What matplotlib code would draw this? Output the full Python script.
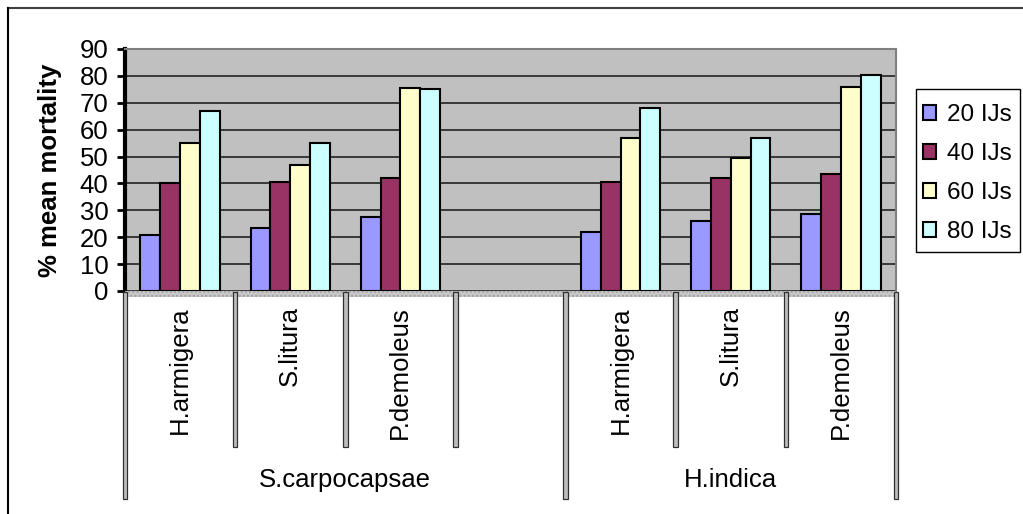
import matplotlib
matplotlib.use("Agg")
import matplotlib.pyplot as plt
from matplotlib.patches import Rectangle
from matplotlib.lines import Line2D
import numpy as np

plt.rcParams['font.family'] = ['Liberation Sans', 'DejaVu Sans']

categories = ["H.armigera", "S.litura", "P.demoleus", "", "H.armigera", "S.litura", "P.demoleus"]
groups = ["S.carpocapsae", "H.indica"]
group_spans = [(0, 4), (4, 7)]  # slot index ranges
series_names = ["20 IJs", "40 IJs", "60 IJs", "80 IJs"]
# values per slot (None = empty slot)
ijs20 = [21, 23.5, 27.5, None, 22, 26, 28.5]
ijs40 = [40, 40.5, 42, None, 40.5, 42, 43.5]
ijs60 = [55, 47, 75.5, None, 57, 49.5, 76]
ijs80 = [67, 55, 75, None, 68, 57, 80.5]
series = [ijs20, ijs40, ijs60, ijs80]
colors = ["#9999FF", "#993366", "#FFFFCC", "#CCFFFF"]
yticks = [0, 10, 20, 30, 40, 50, 60, 70, 80, 90]

W, H = 1023, 514
fig = plt.figure(figsize=(W / 100, H / 100), dpi=100)
fig.patch.set_facecolor("white")

x0p, x1p, y0p, y1p = 125, 896, 291, 49
ax = fig.add_axes([x0p / W, 1 - y0p / H, (x1p - x0p) / W, (y0p - y1p) / H])
ax.set_facecolor("#C0C0C0")
ax.set_xlim(-0.5, len(categories) - 0.5)
ax.set_ylim(0, 90)
ax.set_yticks(yticks)
ax.set_yticklabels([str(t) for t in yticks], fontsize=18.5)
ax.tick_params(axis="y", direction="out", length=6, width=2, pad=6)
ax.set_xticks([])
ax.yaxis.grid(True, color="#222222", lw=1.2)
ax.set_axisbelow(True)
for s in ["top", "right"]:
    ax.spines[s].set_color("#808080")
    ax.spines[s].set_linewidth(1.5)
ax.spines["left"].set_color("black")
ax.spines["left"].set_linewidth(3)
ax.spines["bottom"].set_visible(False)

bw = 0.18
xs = np.arange(len(categories))
for k, (vals, c, name) in enumerate(zip(series, colors, series_names)):
    px = [x + (k - 1.5) * bw for x, v in zip(xs, vals) if v is not None]
    pv = [v for v in vals if v is not None]
    ax.bar(px, pv, width=bw, color=c, edgecolor="black", linewidth=1.5, label=name, zorder=3)

trans = ax.get_xaxis_transform()
hpx = y0p - y1p

def ay(py):
    return (y0p - py) / hpx

# dotted band under axis
ax.add_patch(Rectangle((-0.5, ay(297)), len(categories), ay(291) - ay(297), transform=trans,
                       facecolor="#C8C8C8", edgecolor="#A0A0A0", lw=0, hatch="....",
                       clip_on=False, zorder=4))
# separators
long_idx = [0, 4, 7]
sep_w = 4.5 / ((x1p - x0p) / len(categories))
for i in range(len(categories) + 1):
    bottom = 499 if i in long_idx else 447
    ax.add_patch(Rectangle((-0.5 + i - sep_w / 2, ay(bottom)), sep_w, ay(292) - ay(bottom),
                           transform=trans, facecolor="#BDBDBD", edgecolor="#303030",
                           lw=0.9, clip_on=False, zorder=5))
for x, lab in zip(xs, categories):
    if lab:
        ax.text(x, ay(306), lab, transform=trans, rotation=90, ha="center", va="top",
                fontsize=18.5, clip_on=False)
for g, (a, b) in zip(groups, group_spans):
    ax.text((a + b - 1) / 2, ay(480), g, transform=trans, ha="center", va="center",
            fontsize=18.5, clip_on=False)

fig.text(50 / W, 1 - 170 / H, "% mean mortality", rotation=90, ha="center", va="center",
         fontsize=18.5, fontweight="bold")

# legend frame drawn separately, entries placed inside
fig.add_artist(Rectangle((916 / W, 1 - 252 / H), (1020 - 916) / W, (252 - 89) / H,
                         transform=fig.transFigure, facecolor="white", edgecolor="black",
                         lw=1, zorder=2))
leg = fig.legend(loc="upper left", bbox_to_anchor=(923 / W, 1 - 104 / H), borderaxespad=0,
                 fontsize=17.5, frameon=False,
                 handlelength=0.55, handleheight=0.55, handletextpad=0.45,
                 labelspacing=0.7, borderpad=0)
leg.set_zorder(3)
for h in leg.legend_handles:
    h.set_linewidth(1.5)

# outer frame (top and left)
fig.add_artist(Line2D([8 / W, 1], [1 - 8 / H, 1 - 8 / H], color="#404040", lw=1.5))
fig.add_artist(Line2D([8 / W, 8 / W], [1 - 8 / H, 0], color="black", lw=1.5))

fig.savefig("out.png", dpi=100)
